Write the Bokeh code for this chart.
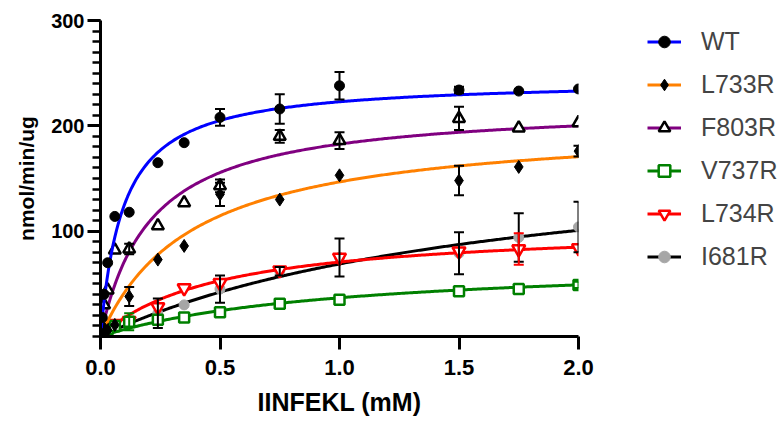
import numpy as np
from bokeh.plotting import figure
from bokeh.models import (ColumnDataSource, FixedTicker, PrintfTickFormatter, Legend,
                          LegendItem, Whisker, TeeHead, Range1d)
from bokeh.embed import file_html
from bokeh.resources import INLINE

# ---------------- data ----------------
conc = [0.0, 0.0075, 0.015, 0.03, 0.06, 0.12, 0.24, 0.35, 0.5, 0.75, 1.0, 1.5, 1.75, 2.0]

wt_y      = [3, 18, 40, 70, 114, 118, 165, 184, 208, 216, 238, 234, 233, 235]
wt_err    = [0, 0, 0, 0, 0, 0, 0, 0, 8, 14, 13, 3, 0, 0]

l733r_y   = [1, 4, 8, 6, 11, 38, 73, 86, 135, 130, 153, 148, 161, 176]
l733r_err = [0, 0, 0, 0, 0, 9, 0, 0, 11, 0, 0, 14, 0, 5]

f803r_y   = [2, 15, 30, 44, 82, 83, 105, 127, 143, 190, 186, 207, 198, 203]
f803r_err = [0, 0, 0, 0, 0, 5, 0, 0, 6, 6, 8, 11, 0, 0]

v737r_y   = [1, 3, 5, 7, 10, 14, 16, 18, 23, 31, 35, 43, 45, 49]
v737r_err = [0, 0, 0, 0, 0, 8, 0, 0, 0, 0, 0, 0, 0, 3]

l734r_y   = [1, 4, 7, 10, 12, 15, 28, 46, 51, 63, 75, 81, 83, 84]
l734r_err = [0, 0, 0, 0, 0, 0, 0, 0, 0, 0, 0, 0, 15, 0]

i681r_y   = [0, 3, 5, 8, 10, 12, 22, 30, 45, 62, 75, 79, 94, 104]
i681r_err = [0, 0, 0, 0, 0, 0, 14, 0, 13, 4, 18, 20, 23, 24]

# Michaelis-Menten fit parameters (Vmax, Km) estimated from the drawn curves
wt_fit    = (244.0, 0.095)
l733r_fit = (204.0, 0.39)
f803r_fit = (221.0, 0.21)
v737r_fit = (73.5, 1.0)
l734r_fit = (106.0, 0.5)
i681r_fit = (188.0, 1.73)

names = ["WT", "L733R", "F803R", "V737R", "L734R", "I681R"]
x_ticks = [0.0, 0.5, 1.0, 1.5, 2.0]
y_ticks = [100, 200, 300]

# ---------------- styles ----------------
styles = {
    "WT":    dict(line="#0000FF", marker="circle", size=10, fill="black", mline="black", lw=1, err="black"),
    "L733R": dict(line="#FF8000", marker="diamond", size=13, fill="black", mline="black", lw=1, err="black"),
    "F803R": dict(line="#800080", marker="triangle", size=12, fill="white", mline="black", lw=2.5, err="black"),
    "V737R": dict(line="#008000", marker="square", size=10, fill="white", mline="#008000", lw=2.5, err="#008000"),
    "L734R": dict(line="#FF0000", marker="inverted_triangle", size=13, fill="white", mline="#FF0000", lw=2.5, err="#FF0000"),
    "I681R": dict(line="#000000", marker="circle", size=10, fill="#A6A6A6", mline="#A6A6A6", lw=1, err="black"),
}
data = {
    "WT": (wt_y, wt_err, wt_fit),
    "L733R": (l733r_y, l733r_err, l733r_fit),
    "F803R": (f803r_y, f803r_err, f803r_fit),
    "V737R": (v737r_y, v737r_err, v737r_fit),
    "L734R": (l734r_y, l734r_err, l734r_fit),
    "I681R": (i681r_y, i681r_err, i681r_fit),
}

FONT = "Liberation Sans"

p = figure(frame_width=478, frame_height=316,
           min_border_left=100, min_border_right=193, min_border_top=20, min_border_bottom=70,
           x_range=Range1d(0, 2.0), y_range=Range1d(0, 300),
           output_backend="svg", toolbar_location=None)
p.grid.visible = False
p.outline_line_color = None
p.background_fill_color = "white"

xs = np.linspace(0, 2.0, 300)
renderers = {}
for name in reversed(names):
    yv, ev, (vmax, km) = data[name]
    st = styles[name]
    fit_src = ColumnDataSource(dict(x=xs, y=vmax * xs / (km + xs)))
    ln = p.line("x", "y", source=fit_src, line_color=st["line"], line_width=3)
    ex = [c for c, e in zip(conc, ev) if e > 0]
    eu = [y + e for y, e in zip(yv, ev) if e > 0]
    el = [y - e for y, e in zip(yv, ev) if e > 0]
    if ex:
        esrc = ColumnDataSource(dict(x=ex, upper=eu, lower=el))
        w = Whisker(source=esrc, base="x", upper="upper", lower="lower",
                    line_color=st["err"], line_width=2, level="glyph",
                    upper_head=TeeHead(size=10, line_color=st["err"], line_width=2),
                    lower_head=TeeHead(size=10, line_color=st["err"], line_width=2))
        p.add_layout(w)
    src = ColumnDataSource(dict(x=conc, y=yv))
    sc = p.scatter("x", "y", source=src, marker=st["marker"], size=st["size"],
                   fill_color=st["fill"], line_color=st["mline"], line_width=st["lw"])
    renderers[name] = (ln, sc)

items = [LegendItem(label=n, renderers=list(renderers[n])) for n in names]
legend = Legend(items=items, location=(69, 65),
                border_line_color=None, background_fill_alpha=0,
                padding=0, margin=0, spacing=14,
                glyph_width=34, glyph_height=29, label_height=29, label_standoff=20,
                label_text_font=FONT, label_text_font_size="25px")
p.add_layout(legend, "right")

# axes
xa = p.xaxis[0]
ya = p.yaxis[0]
xa.ticker = FixedTicker(ticks=x_ticks, minor_ticks=[])
xa.formatter = PrintfTickFormatter(format="%.1f")
ya.ticker = FixedTicker(ticks=y_ticks, minor_ticks=list(range(0, 301, 10)))
ya.formatter = PrintfTickFormatter(format="%d")
xa.axis_label = "IINFEKL (mM)"
ya.axis_label = "nmol/min/ug"
for ax in (xa, ya):
    ax.axis_line_width = 3
    ax.axis_line_color = "black"
    ax.major_tick_line_width = 3
    ax.minor_tick_line_width = 2.5
    ax.major_tick_in = 0
    ax.major_tick_out = 13
    ax.minor_tick_in = 0
    ax.minor_tick_out = 8
    ax.major_label_text_font = FONT
    ax.major_label_text_font_style = "bold"
    ax.major_label_text_color = "black"
    ax.axis_label_text_font = FONT
    ax.axis_label_text_font_style = "bold"
    ax.axis_label_text_color = "black"
xa.major_label_text_font_size = "22px"
ya.major_label_text_font_size = "20px"
xa.axis_label_text_font_size = "25px"
ya.axis_label_text_font_size = "21px"
xa.major_label_standoff = 10
ya.major_label_standoff = 3
xa.axis_label_standoff = 10
ya.axis_label_standoff = 10

open("out.html", "w").write(file_html(p, INLINE))
